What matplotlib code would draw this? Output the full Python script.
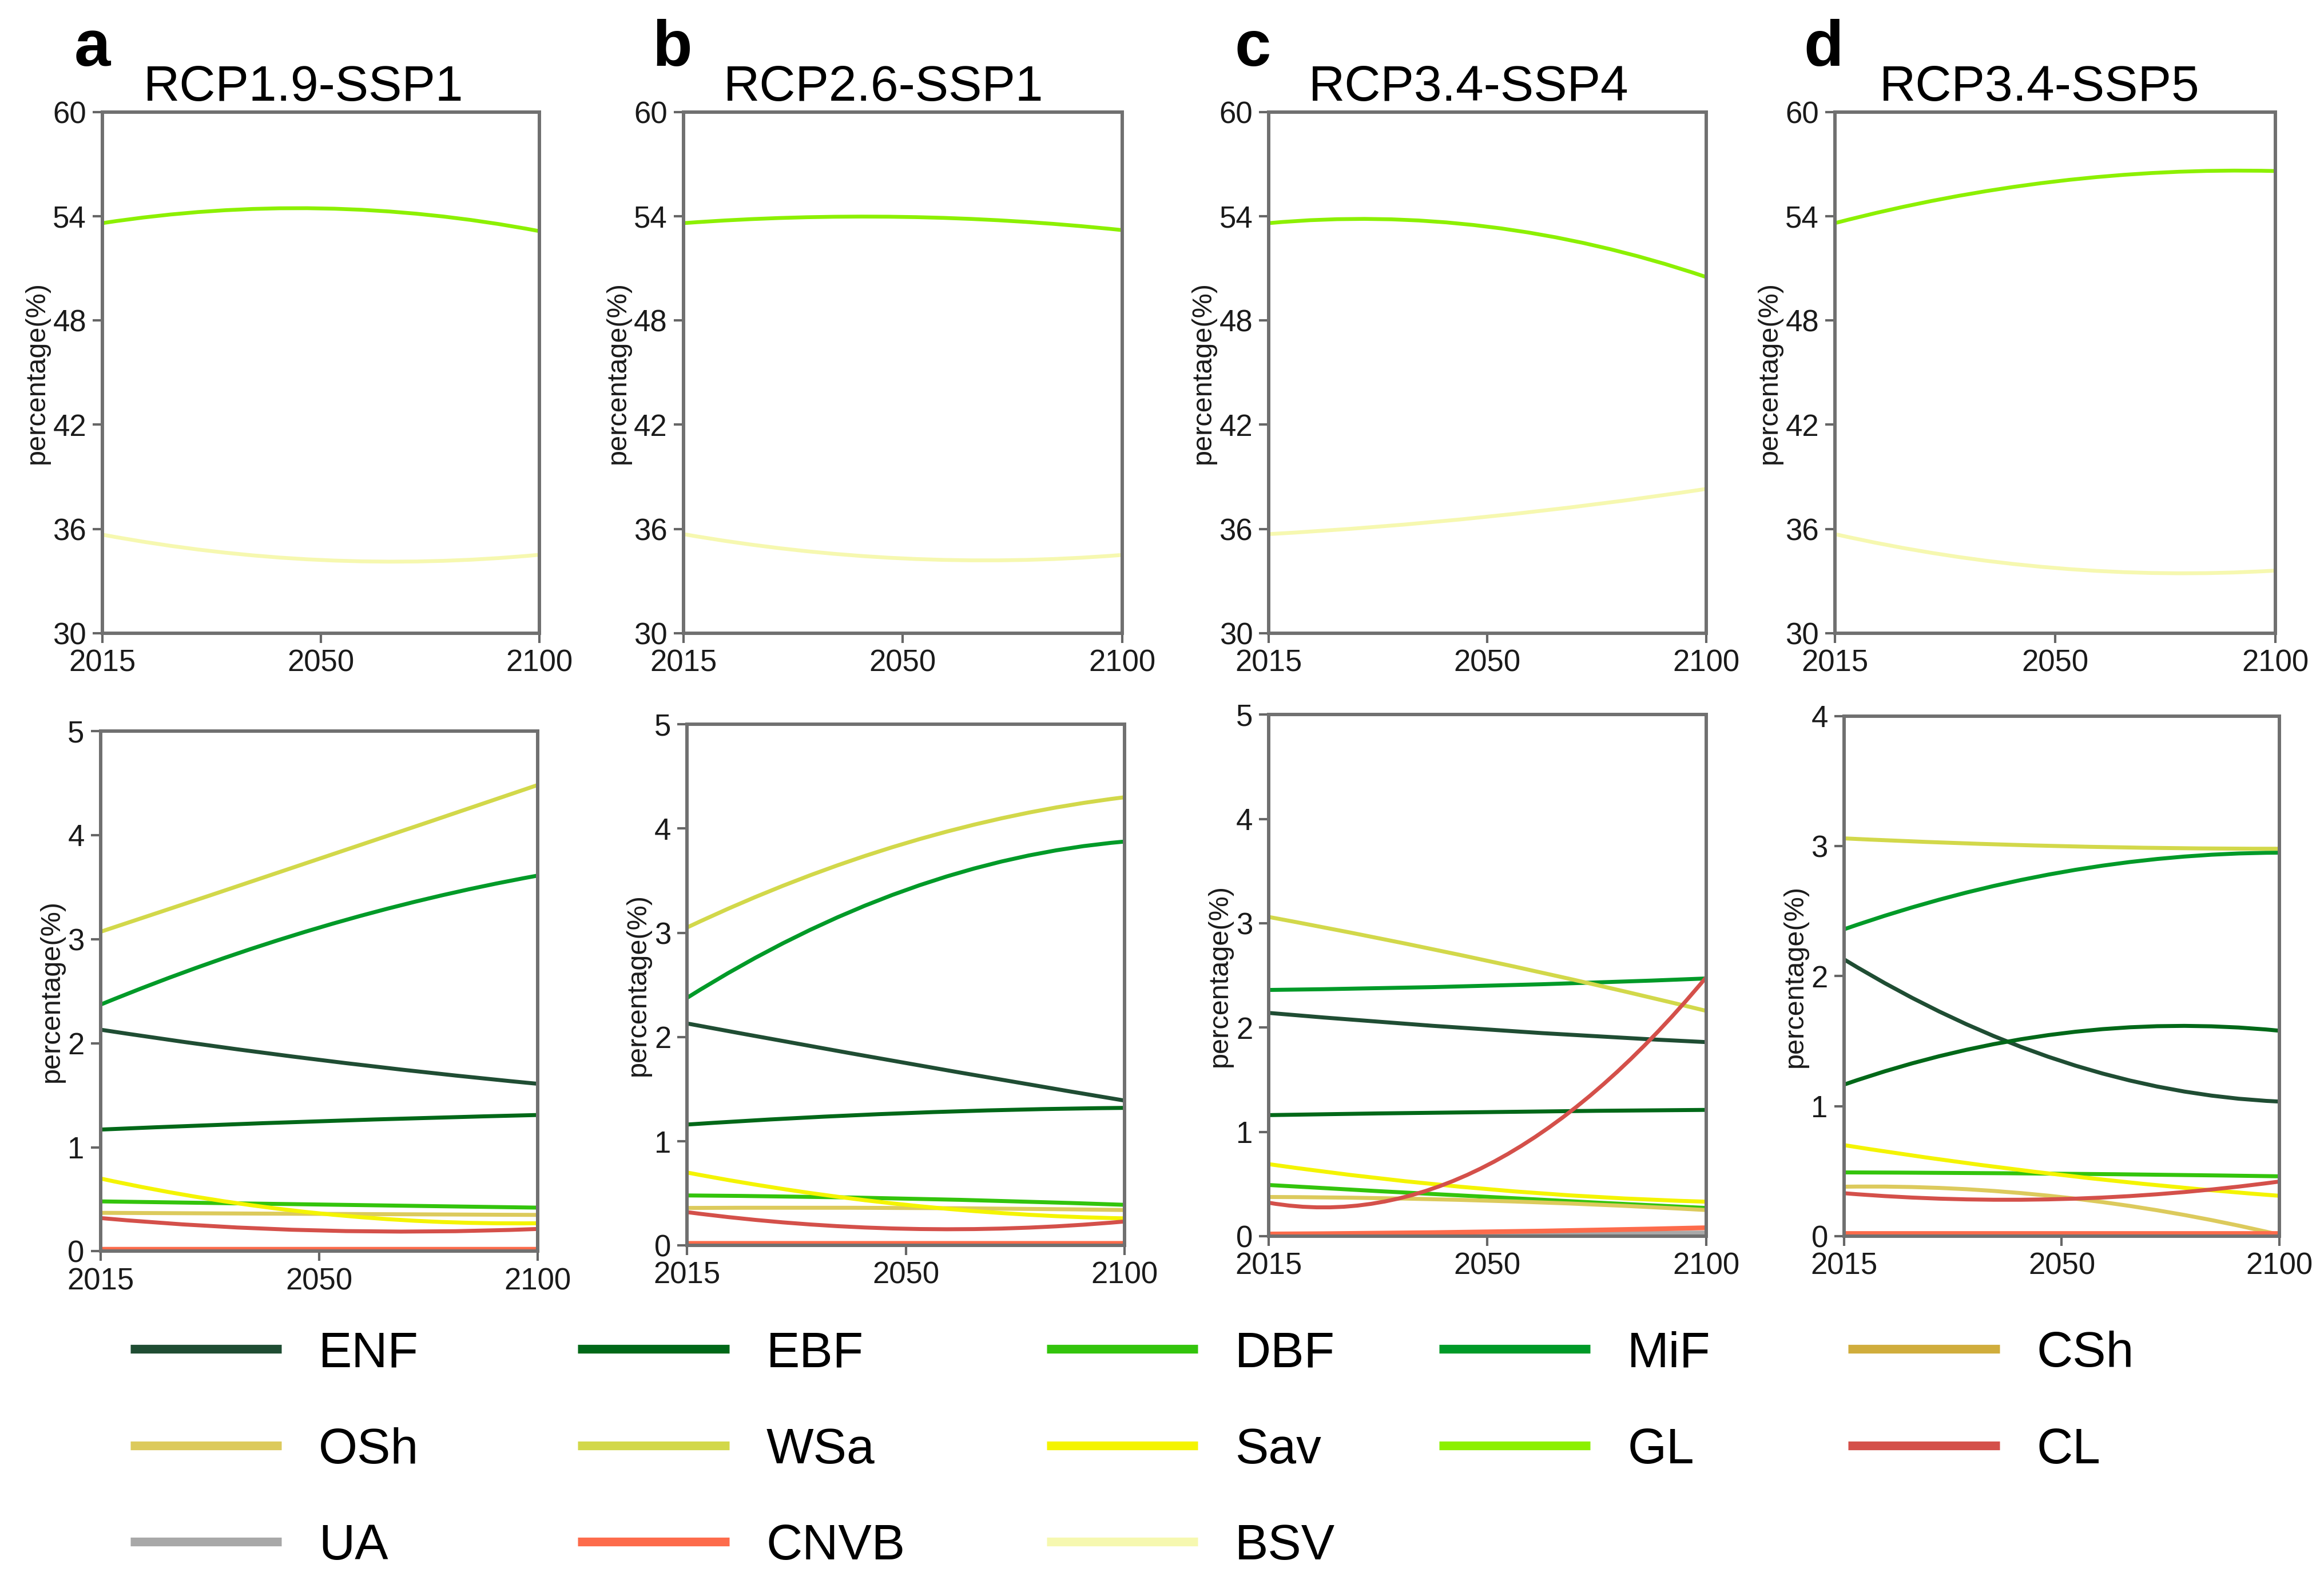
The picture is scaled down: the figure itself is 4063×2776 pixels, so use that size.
import matplotlib
matplotlib.use('Agg')
import matplotlib.pyplot as plt
from matplotlib.path import Path
from matplotlib.patches import PathPatch
from matplotlib.lines import Line2D

plt.rcParams['font.family'] = ['Liberation Sans', 'DejaVu Sans']

years = ['2015', '2050', '2100']
scenarios = ['RCP1.9-SSP1', 'RCP2.6-SSP1', 'RCP3.4-SSP4', 'RCP3.4-SSP5']
letters = ['a', 'b', 'c', 'd']

# one triple (2015, 2050, 2100) per scenario a..d, values in %
ENF = [[2.13, 1.84, 1.61], [2.13, 1.75, 1.39], [2.14, 1.98, 1.86], [2.13, 1.345, 1.035]]
EBF = [[1.17, 1.25, 1.31], [1.16, 1.27, 1.32], [1.16, 1.19, 1.21], [1.165, 1.56, 1.58]]
DBF = [[0.48, 0.45, 0.42], [0.48, 0.45, 0.39], [0.49, 0.375, 0.27], [0.49, 0.48, 0.46]]
MiF = [[2.37, 3.11, 3.61], [2.375, 3.41, 3.875], [2.36, 2.40, 2.47], [2.36, 2.80, 2.95]]
CSh = [[0.01, 0.01, 0.01], [0.01, 0.01, 0.01], [0.01, 0.01, 0.01], [0.01, 0.01, 0.01]]
OSh = [[0.37, 0.36, 0.35], [0.36, 0.36, 0.34], [0.375, 0.34, 0.25], [0.38, 0.30, 0.01]]
WSa = [[3.07, 3.77, 4.48], [3.05, 3.86, 4.30], [3.06, 2.64, 2.16], [3.06, 3.00, 2.98]]
Sav = [[0.70, 0.365, 0.27], [0.70, 0.39, 0.26], [0.69, 0.45, 0.33], [0.70, 0.47, 0.31]]
GL = [[53.6, 54.45, 53.14], [53.6, 53.96, 53.2], [53.6, 53.4, 50.5], [53.6, 56.0, 56.6]]
CL = [[0.32, 0.20, 0.215], [0.32, 0.16, 0.23], [0.32, 0.68, 2.48], [0.33, 0.285, 0.42]]
UA = [[0.01, 0.01, 0.01], [0.01, 0.01, 0.01], [0.01, 0.02, 0.03], [0.01, 0.01, 0.01]]
CNVB = [[0.02, 0.02, 0.02], [0.02, 0.02, 0.02], [0.02, 0.04, 0.08], [0.02, 0.02, 0.02]]
BSV = [[35.67, 34.21, 34.51], [35.7, 34.3, 34.5], [35.7, 36.7, 38.3], [35.7, 33.75, 33.6]]

classes = ['ENF', 'EBF', 'DBF', 'MiF', 'CSh', 'OSh', 'WSa', 'Sav', 'GL', 'CL', 'UA', 'CNVB', 'BSV']
series = {'ENF': ENF, 'EBF': EBF, 'DBF': DBF, 'MiF': MiF, 'CSh': CSh, 'OSh': OSh, 'WSa': WSa,
          'Sav': Sav, 'GL': GL, 'CL': CL, 'UA': UA, 'CNVB': CNVB, 'BSV': BSV}
colors = {'ENF': '#1f4d33', 'EBF': '#006818', 'DBF': '#33c40c', 'MiF': '#009a28',
          'CSh': '#d0ad3c', 'OSh': '#dcca5c', 'WSa': '#d2d84a', 'Sav': '#f4f400',
          'GL': '#8cf000', 'CL': '#d4504a', 'UA': '#a8a8a8', 'CNVB': '#fd6b4b',
          'BSV': '#f6f8b0'}
top_classes = ['GL', 'BSV']

fig = plt.figure(figsize=(40.63, 27.76), dpi=100)

# axes boxes [left, bottom, width, height] in figure fraction
top_pos = [[0.0440, 0.6013, 0.1881, 0.3282], [0.2940, 0.6013, 0.1888, 0.3282],
           [0.5459, 0.6013, 0.1882, 0.3282], [0.7895, 0.6013, 0.1895, 0.3282]]
bot_pos = [[0.0432, 0.2120, 0.1881, 0.3277], [0.2956, 0.2157, 0.1883, 0.3282],
           [0.5459, 0.2216, 0.1882, 0.3284], [0.7934, 0.2216, 0.1875, 0.3274]]
bot_ymax = [5, 5, 5, 4]
title_x = [0.1307, 0.3801, 0.6320, 0.8776]
letter_x = [0.0319, 0.2806, 0.5312, 0.7761]


def smooth(ax, y, color, lw):
    # smooth curve through the three points (Origin-like spline look)
    ctrl = 2 * y[1] - (y[0] + y[2]) / 2.0
    path = Path([(0, y[0]), (1, ctrl), (2, y[2])], [Path.MOVETO, Path.CURVE3, Path.CURVE3])
    ax.add_patch(PathPatch(path, fill=False, edgecolor=color, lw=lw, capstyle='butt'))


def style(ax):
    ax.set_xlim(0, 2)
    ax.set_xticks([0, 1, 2])
    ax.set_xticklabels(years)
    ax.tick_params(direction='out', length=12, width=3, labelsize=38,
                   color='#666666', labelcolor='#1a1a1a')
    ax.tick_params(axis='x', pad=8)
    ax.tick_params(axis='y', pad=8)
    for sp in ax.spines.values():
        sp.set_color('#707070')
        sp.set_linewidth(4.3)
    ax.set_ylabel('percentage(%)', fontsize=35, labelpad=4, color='#1a1a1a')


for i in range(4):
    ax = fig.add_axes(top_pos[i])
    for c in top_classes:
        smooth(ax, series[c][i], colors[c], 4.8)
    ax.set_ylim(30, 60)
    ax.set_yticks(range(30, 61, 6))
    style(ax)

    ax2 = fig.add_axes(bot_pos[i])
    for c in classes:
        if c in top_classes:
            continue
        lw = 6 if c in ('UA', 'CNVB', 'CSh') else 5
        smooth(ax2, series[c][i], colors[c], lw)
    ax2.set_ylim(0, bot_ymax[i])
    ax2.set_yticks(range(0, bot_ymax[i] + 1))
    style(ax2)

    fig.text(title_x[i], 0.9365, scenarios[i], fontsize=63, ha='center', va='baseline')
    fig.text(letter_x[i], 0.9586, letters[i], fontsize=82, fontweight='bold',
             ha='left', va='baseline')

# legend, five columns placed separately
leg_cols = [['ENF', 'OSh', 'UA'], ['EBF', 'WSa', 'CNVB'], ['DBF', 'Sav', 'BSV'],
            ['MiF', 'GL'], ['CSh', 'CL']]
leg_x = [0.0561, 0.2487, 0.4503, 0.6193, 0.7953]
for k, col in enumerate(leg_cols):
    handles = [Line2D([], [], color=colors[c], lw=11, solid_capstyle='butt') for c in col]
    fig.legend(handles, col, loc='upper left', bbox_to_anchor=(leg_x[k], 0.1621),
               frameon=False, fontsize=63, handlelength=3.02, handletextpad=0.74,
               labelspacing=1.0, borderpad=0, borderaxespad=0)

plt.savefig('out.png', dpi=100)
